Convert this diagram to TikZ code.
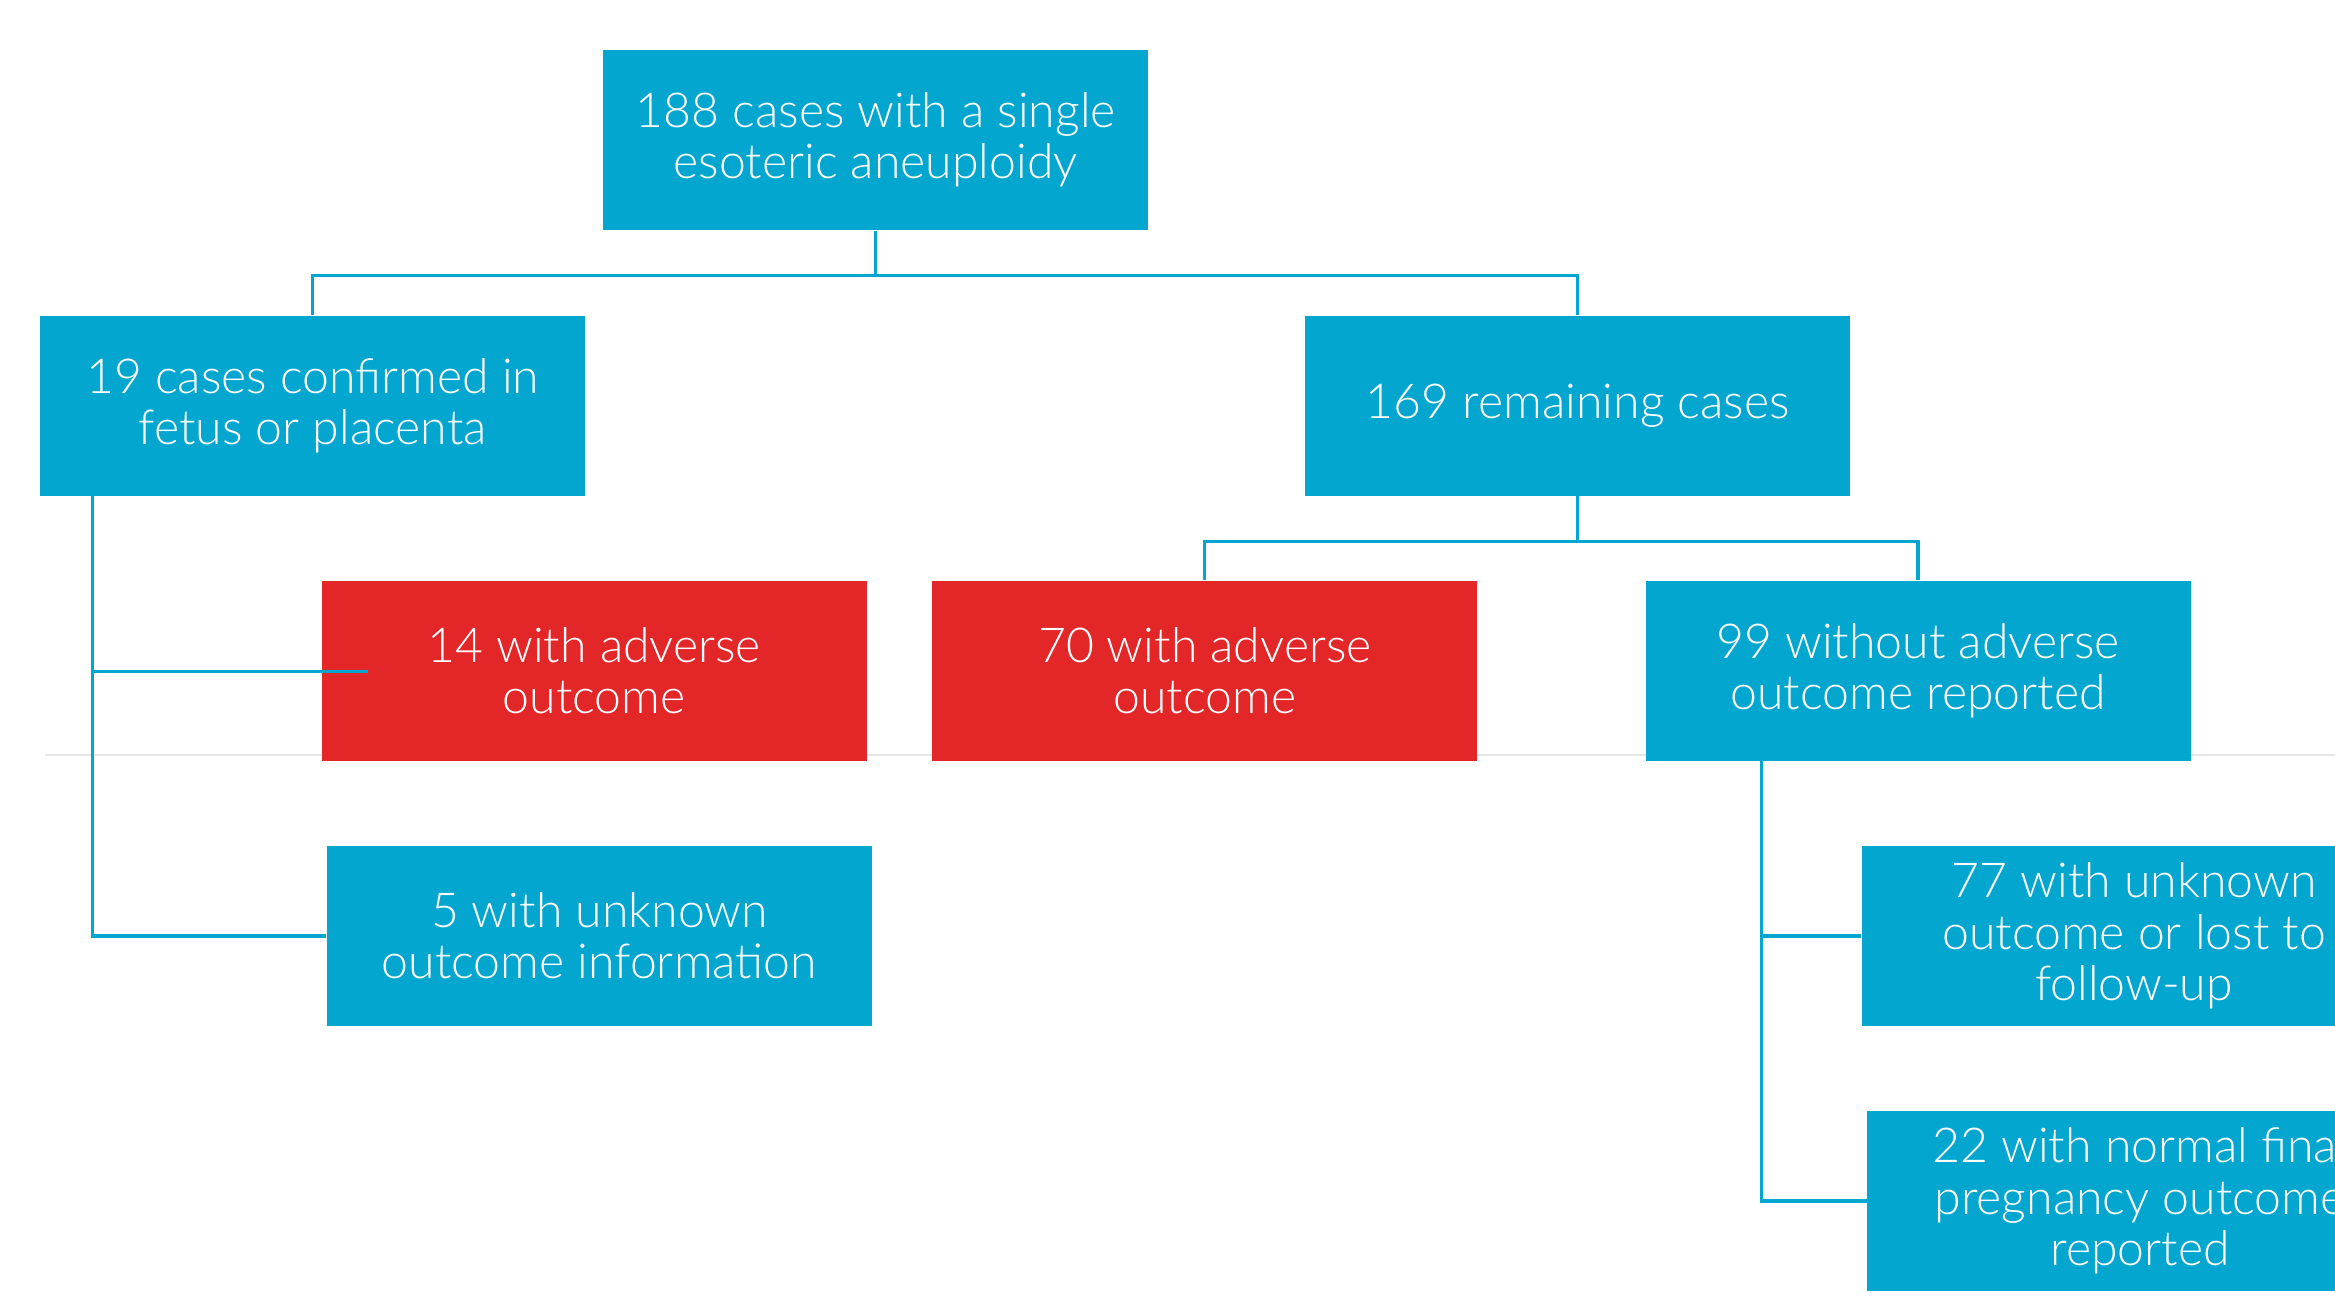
\documentclass[tikz,border=0pt]{standalone}
\usepackage{fontspec}
\setmainfont{Lato Light}

\definecolor{cblue}{RGB}{2,166,206}
\definecolor{cred}{RGB}{227,38,40}
\definecolor{cgrey}{RGB}{230,230,230}

\tikzstyle{box}=[fill=cblue, text=white, align=center, minimum width=5.45cm, minimum height=1.8cm, inner sep=0pt, font=\fontsize{13.7}{14.6}\selectfont]
\tikzstyle{redbox}=[box, fill=cred]
\tikzstyle{link}=[cblue, line width=0.9pt]

\begin{document}
\begin{tikzpicture}[x=0.01489cm, y=-0.01489cm]
      \useasboundingbox (0,0) rectangle (1568,872);
      \clip (0,0) rectangle (1568,872);
      \draw[cgrey, line width=0.7pt] (30,507) -- (1568,507);

      \node[box] (all) at (588, 94) {188 cases with a single\\esoteric aneuploidy};
      \node[box] (conf) at (210, 272.5) {19 cases confirmed in\\fetus or placenta};
      \node[box] (rest) at (1059.5, 272.5) {169 remaining cases};
      \node[redbox] (adv1) at (399, 450.5) {14 with adverse\\outcome};
      \node[box] (unk1) at (402.5, 628.5) {5 with unknown\\outcome information};
      \node[redbox] (adv2) at (809, 450.5) {70 with adverse\\outcome};
      \node[box] (noadv) at (1288, 450.5) {99 without adverse\\outcome reported};
      \node[box] (lost) at (1433, 628.5) {77 with unknown\\outcome or lost to\\follow-up};
      \node[box] (normal) at (1437, 806.5) {22 with normal final\\pregnancy outcome\\reported};

      \coordinate (lstem) at (62, 333);
      \coordinate (tip) at (247, 451);
      \coordinate (rstem) at (1183, 511);

      \draw[link] (all.south) -- ++(0,30) -| (conf.north);
      \draw[link] (all.south) -- ++(0,30) -| (rest.north);
      \draw[link] (lstem) |- (unk1.west);
      \draw[link] (lstem |- tip) -- (tip);
      \draw[link] (rest.south) -- ++(0,30) -| (adv2.north);
      \draw[link] (rest.south) -- ++(0,30) -| (noadv.north);
      \draw[link] (rstem) |- (lost.west);
      \draw[link] (rstem) |- (normal.west);
    \end{tikzpicture}
\end{document}
